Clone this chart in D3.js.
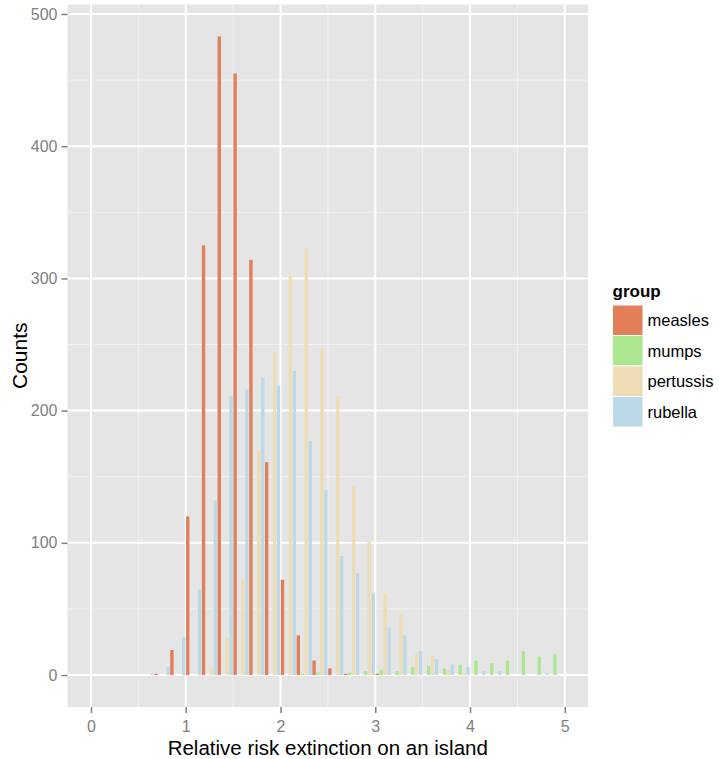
<!DOCTYPE html>
<html>
<head>
<meta charset="utf-8">
<script src="https://cdn.jsdelivr.net/npm/d3@7"></script>
<style>
  body { margin: 0; background: #fff; }
  text { font-family: "Liberation Sans", Arial, Helvetica, sans-serif; }
</style>
</head>
<body>
<div id="chart"></div>
<script>
var width = 719,
    height = 759

// panel box (ggplot style)
var panel = {left: 67.5, right: 588, top: 4.5, bottom: 707}

// data: histogram bins (lower edge) and counts per group
var groups = ["measles", "mumps", "pertussis", "rubella"]
var colors = ["#e27f59", "#abe78f", "#eedcb4", "#bbd9e6"]
var binEdges = [0, 0.167, 0.333, 0.5, 0.667, 0.833, 1, 1.167, 1.333, 1.5,
                1.667, 1.833, 2, 2.167, 2.333, 2.5, 2.667, 2.833, 3, 3.167,
                3.333, 3.5, 3.667, 3.833, 4, 4.167, 4.333, 4.5, 4.667, 4.833]
var binWidth = 0.1667
var measles   = [0, 0, 0, 0, 1, 19, 120, 325, 483, 455, 314, 161, 72, 30, 11, 5, 1, 0, 1, 0, 0, 0, 0, 0, 0, 0, 0, 0, 0, 0]
var mumps     = [0, 0, 0, 0, 0, 0, 0, 0, 0, 0, 0, 0, 0, 1, 2, 0, 2, 3, 4, 3, 6, 7, 5, 8, 11, 9, 11, 18, 14, 16]
var pertussis = [0, 0, 0, 0, 0, 0, 0, 6, 28, 72, 170, 244, 302, 323, 247, 211, 143, 101, 62, 46, 16, 15, 4, 1, 0, 0, 0, 0, 0, 0]
var rubella   = [0, 0, 0, 1, 6, 29, 65, 132, 211, 216, 225, 219, 230, 177, 140, 90, 77, 62, 36, 30, 18, 12, 8, 6, 3, 3, 0, 0, 1, 0]

var xTicks = [0, 1, 2, 3, 4, 5]
var yTicks = [0, 100, 200, 300, 400, 500]

var series = {measles: measles, mumps: mumps, pertussis: pertussis, rubella: rubella}

var rows = []
groups.forEach(function(g) {
    series[g].forEach(function(v, i) {
        rows.push({group: g, x0: binEdges[i], count: v})
    })
})

var svg = d3.select("#chart")
    .append("svg")
        .attr("width", width)
        .attr("height", height)
        .style("background-color", "white")

// scales
var x = d3.scaleLinear().domain([-0.248, 5.245]).range([panel.left, panel.right])
var y = d3.scaleLinear().domain([-24.15, 507.15]).range([panel.bottom, panel.top])
var color = d3.scaleOrdinal().domain(groups).range(colors)
var dodge = d3.scaleBand()
    .domain(groups)
    .range([0, x(binWidth) - x(0)])
    .paddingInner(0.15)
    .paddingOuter(0.075)

// panel background
svg.append("rect")
    .attr("x", panel.left)
    .attr("y", panel.top)
    .attr("width", panel.right - panel.left)
    .attr("height", panel.bottom - panel.top)
    .attr("fill", "#e5e5e5")

// minor grid
var xMinor = [0.5, 1.5, 2.5, 3.5, 4.5]
var yMinor = [50, 150, 250, 350, 450]
svg.selectAll(".xminor").data(xMinor).enter().append("line")
    .attr("x1", d => x(d)).attr("x2", d => x(d))
    .attr("y1", panel.top).attr("y2", panel.bottom)
    .attr("stroke", "#f2f2f2").attr("stroke-width", 1)
svg.selectAll(".yminor").data(yMinor).enter().append("line")
    .attr("x1", panel.left).attr("x2", panel.right)
    .attr("y1", d => y(d)).attr("y2", d => y(d))
    .attr("stroke", "#f2f2f2").attr("stroke-width", 1)

// major grid
svg.selectAll(".xmajor").data(xTicks).enter().append("line")
    .attr("x1", d => x(d)).attr("x2", d => x(d))
    .attr("y1", panel.top).attr("y2", panel.bottom)
    .attr("stroke", "white").attr("stroke-width", 2)
svg.selectAll(".ymajor").data(yTicks).enter().append("line")
    .attr("x1", panel.left).attr("x2", panel.right)
    .attr("y1", d => y(d)).attr("y2", d => y(d))
    .attr("stroke", "white").attr("stroke-width", 2)

// bars
svg.append("g").selectAll("rect")
    .data(rows.filter(d => d.count > 0))
    .enter()
    .append("rect")
        .attr("x", d => x(d.x0) + dodge(d.group))
        .attr("width", dodge.bandwidth())
        .attr("y", d => y(d.count))
        .attr("height", d => y(0) - y(d.count))
        .attr("fill", d => color(d.group))

// axes
var xAxis = svg.append("g")
    .attr("transform", "translate(0," + panel.bottom + ")")
    .call(d3.axisBottom(x).tickValues(xTicks).tickSize(6).tickPadding(6).tickFormat(d3.format("d")))
var yAxis = svg.append("g")
    .attr("transform", "translate(" + panel.left + ",0)")
    .call(d3.axisLeft(y).tickValues(yTicks).tickSize(6).tickPadding(4).tickFormat(d3.format("d")))

;[xAxis, yAxis].forEach(function(a) {
    a.select(".domain").remove()
    a.selectAll(".tick line").attr("stroke", "#7f7f7f").attr("stroke-width", 1.5)
    a.selectAll(".tick text")
        .attr("fill", "#7f7f7f")
        .style("font-size", "16px")
        .style("font-family", '"Liberation Sans", Arial, Helvetica, sans-serif')
})
xAxis.selectAll(".tick text").attr("dy", null).attr("y", 25)

// axis titles
svg.append("text")
    .attr("x", (panel.left + panel.right) / 2)
    .attr("y", 755)
    .attr("text-anchor", "middle")
    .style("font-size", "20.5px")
    .text("Relative risk extinction on an island")

svg.append("text")
    .attr("transform", "translate(27," + (panel.top + panel.bottom) / 2 + ") rotate(-90)")
    .attr("text-anchor", "middle")
    .style("font-size", "21px")
    .text("Counts")

// legend
var legend = svg.append("g").attr("transform", "translate(612.5,0)")
legend.append("text")
    .attr("x", 0)
    .attr("y", 297)
    .style("font-size", "17px")
    .style("font-weight", "bold")
    .text("group")

var keySize = 30.5
var items = legend.selectAll(".item").data(groups).enter().append("g")
    .attr("transform", (d, i) => "translate(0," + (305 + i * keySize) + ")")
items.append("rect")
    .attr("width", keySize)
    .attr("height", keySize)
    .attr("fill", d => color(d))
    .attr("stroke", "white")
    .attr("stroke-width", 1)
items.append("text")
    .attr("x", keySize + 4.5)
    .attr("y", keySize / 2)
    .attr("dy", "0.35em")
    .style("font-size", "16.5px")
    .text(d => d)
</script>
</body>
</html>
